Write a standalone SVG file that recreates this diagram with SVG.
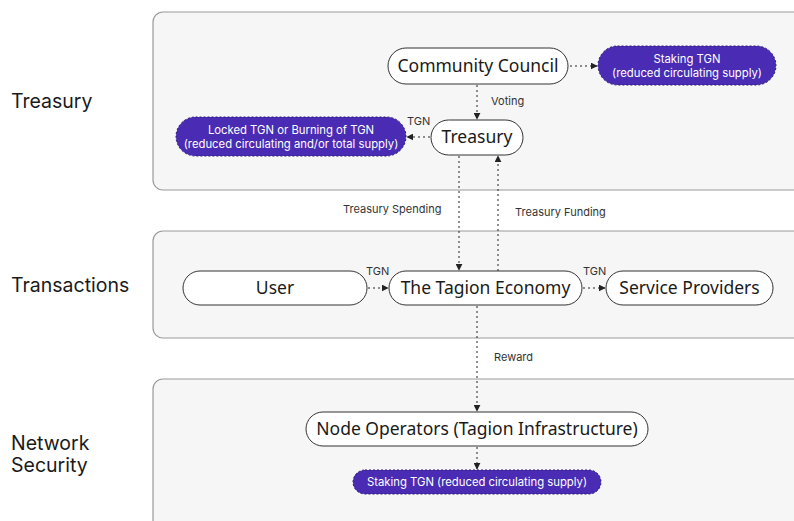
<svg xmlns="http://www.w3.org/2000/svg" width="794" height="521" viewBox="0 0 794 521">
<defs>
<marker id="ah" viewBox="0 0 10 10" refX="9" refY="5" markerWidth="7" markerHeight="7" markerUnits="userSpaceOnUse" orient="auto">
<path d="M0,0 L10,5 L0,10 z" fill="#222"/>
</marker>
<style>
.panel{fill:#f6f6f6;stroke:#9a9a9a;stroke-width:1.2}
.sec{font-family:Inter,"Noto Sans",sans-serif;font-size:19.5px;fill:#1a1a1a}
.node{fill:#fff;stroke:#333;stroke-width:1}
.nt{font-family:"Noto Sans",Inter,sans-serif;font-size:17.5px;fill:#1a1a1a;text-anchor:middle}
.pur{fill:#4a2bb3;stroke:#2a1a70;stroke-width:1;stroke-dasharray:2 2}
.pt{font-family:Inter,"Noto Sans",sans-serif;font-size:11.3px;fill:#fff;text-anchor:middle}
.lbl{font-family:Inter,"Noto Sans",sans-serif;font-size:11px;fill:#333}
.c{fill:none;stroke:#222;stroke-width:1;stroke-dasharray:2 3;marker-end:url(#ah)}
</style>
</defs>
<rect width="794" height="521" fill="#fff"/>
<g id="panels">
<rect class="panel" x="153" y="12" width="660" height="178" rx="10"/>
<rect class="panel" x="153" y="231" width="660" height="107" rx="10"/>
<rect class="panel" x="153" y="379" width="660" height="160" rx="10"/>
<text class="sec" x="11" y="108">Treasury</text>
<text class="sec" x="11" y="292">Transactions</text>
<text class="sec" x="11" y="450">Network</text>
<text class="sec" x="11" y="472">Security</text>
</g>
<g id="connectors">
<path class="c" d="M570,66 H597"/>
<path class="c" d="M477,85 V119"/>
<path class="c" d="M430,137 H407"/>
<path class="c" d="M459,156 V270"/>
<path class="c" d="M498,271 V156"/>
<path class="c" d="M368,288 H388"/>
<path class="c" d="M583,288 H605"/>
<path class="c" d="M477,306 V411"/>
<path class="c" d="M477,447 V469"/>
<text class="lbl" x="491" y="105">Voting</text>
<text class="lbl" x="407" y="125">TGN</text>
<text class="lbl" x="343" y="213">Treasury Spending</text>
<text class="lbl" x="515" y="216">Treasury Funding</text>
<text class="lbl" x="366" y="275">TGN</text>
<text class="lbl" x="583" y="275">TGN</text>
<text class="lbl" x="494" y="361">Reward</text>
</g>
<g id="community-council">
<rect class="node" x="388" y="48" width="180" height="36" rx="18"/>
<text class="nt" x="478" y="72">Community Council</text>
</g>
<g id="staking-top">
<rect class="pur" x="598" y="46" width="178" height="39" rx="19.5"/>
<text class="pt" x="687" y="63">Staking TGN</text>
<text class="pt" x="687" y="77">(reduced circulating supply)</text>
</g>
<g id="treasury">
<rect class="node" x="431" y="120" width="92" height="35" rx="17.5"/>
<text class="nt" x="477" y="143">Treasury</text>
</g>
<g id="locked">
<rect class="pur" x="176" y="117" width="230" height="39" rx="19.5"/>
<text class="pt" x="291" y="134">Locked TGN or Burning of TGN</text>
<text class="pt" x="291" y="148">(reduced circulating and/or total supply)</text>
</g>
<g id="user">
<rect class="node" x="183" y="271" width="184" height="34" rx="17"/>
<text class="nt" x="275" y="294">User</text>
</g>
<g id="tagion-economy">
<rect class="node" x="389" y="271" width="193" height="34" rx="17"/>
<text class="nt" x="485.5" y="294">The Tagion Economy</text>
</g>
<g id="service-providers">
<rect class="node" x="606" y="271" width="167" height="34" rx="17"/>
<text class="nt" x="689.5" y="294">Service Providers</text>
</g>
<g id="node-operators">
<rect class="node" x="306" y="412" width="342" height="34" rx="17"/>
<text class="nt" x="477" y="435">Node Operators (Tagion Infrastructure)</text>
</g>
<g id="staking-bottom">
<rect class="pur" x="353" y="470" width="248" height="24" rx="12"/>
<text class="pt" x="477" y="486">Staking TGN (reduced circulating supply)</text>
</g>
</svg>
